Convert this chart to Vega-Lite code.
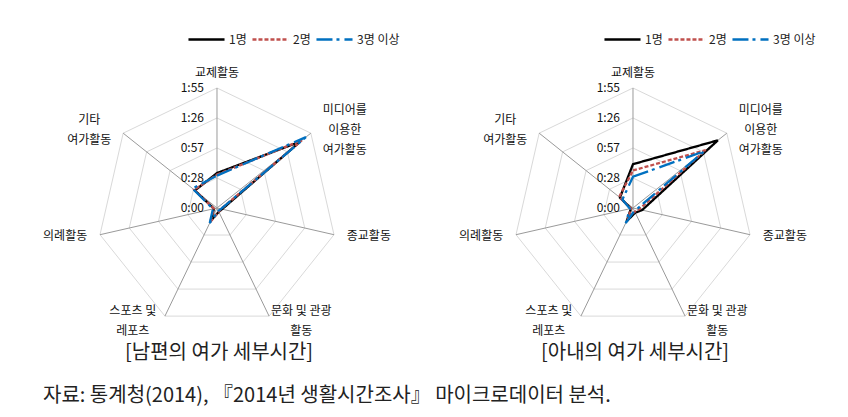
{
  "$schema": "https://vega.github.io/schema/vega-lite/v6.json",
  "padding": 0,
  "bounds": "flush",
  "spacing": 0,
  "background": "white",
  "datasets": {
    "series": [
      {"panel": "husband", "group": "1명", "idx": 0, "cat": "교제활동", "min": 33.5},
      {"panel": "husband", "group": "1명", "idx": 1, "cat": "미디어를 이용한 여가활동", "min": 102},
      {"panel": "husband", "group": "1명", "idx": 2, "cat": "종교활동", "min": 5},
      {"panel": "husband", "group": "1명", "idx": 3, "cat": "문화 및 관광 활동", "min": 4},
      {"panel": "husband", "group": "1명", "idx": 4, "cat": "스포츠 및 레포츠", "min": 13},
      {"panel": "husband", "group": "1명", "idx": 5, "cat": "의례활동", "min": 3},
      {"panel": "husband", "group": "1명", "idx": 6, "cat": "기타 여가활동", "min": 27},
      {"panel": "husband", "group": "2명", "idx": 0, "cat": "교제활동", "min": 32},
      {"panel": "husband", "group": "2명", "idx": 1, "cat": "미디어를 이용한 여가활동", "min": 104},
      {"panel": "husband", "group": "2명", "idx": 2, "cat": "종교활동", "min": 4},
      {"panel": "husband", "group": "2명", "idx": 3, "cat": "문화 및 관광 활동", "min": 4},
      {"panel": "husband", "group": "2명", "idx": 4, "cat": "스포츠 및 레포츠", "min": 15},
      {"panel": "husband", "group": "2명", "idx": 5, "cat": "의례활동", "min": 3},
      {"panel": "husband", "group": "2명", "idx": 6, "cat": "기타 여가활동", "min": 28},
      {"panel": "husband", "group": "3명 이상", "idx": 0, "cat": "교제활동", "min": 31},
      {"panel": "husband", "group": "3명 이상", "idx": 1, "cat": "미디어를 이용한 여가활동", "min": 109},
      {"panel": "husband", "group": "3명 이상", "idx": 2, "cat": "종교활동", "min": 4},
      {"panel": "husband", "group": "3명 이상", "idx": 3, "cat": "문화 및 관광 활동", "min": 3},
      {"panel": "husband", "group": "3명 이상", "idx": 4, "cat": "스포츠 및 레포츠", "min": 16},
      {"panel": "husband", "group": "3명 이상", "idx": 5, "cat": "의례활동", "min": 4},
      {"panel": "husband", "group": "3명 이상", "idx": 6, "cat": "기타 여가활동", "min": 30},
      {"panel": "wife", "group": "1명", "idx": 0, "cat": "교제활동", "min": 42},
      {"panel": "wife", "group": "1명", "idx": 1, "cat": "미디어를 이용한 여가활동", "min": 104},
      {"panel": "wife", "group": "1명", "idx": 2, "cat": "종교활동", "min": 9},
      {"panel": "wife", "group": "1명", "idx": 3, "cat": "문화 및 관광 활동", "min": 5},
      {"panel": "wife", "group": "1명", "idx": 4, "cat": "스포츠 및 레포츠", "min": 14},
      {"panel": "wife", "group": "1명", "idx": 5, "cat": "의례활동", "min": 2},
      {"panel": "wife", "group": "1명", "idx": 6, "cat": "기타 여가활동", "min": 16},
      {"panel": "wife", "group": "2명", "idx": 0, "cat": "교제활동", "min": 36},
      {"panel": "wife", "group": "2명", "idx": 1, "cat": "미디어를 이용한 여가활동", "min": 89},
      {"panel": "wife", "group": "2명", "idx": 2, "cat": "종교활동", "min": 6},
      {"panel": "wife", "group": "2명", "idx": 3, "cat": "문화 및 관광 활동", "min": 4},
      {"panel": "wife", "group": "2명", "idx": 4, "cat": "스포츠 및 레포츠", "min": 10},
      {"panel": "wife", "group": "2명", "idx": 5, "cat": "의례활동", "min": 2},
      {"panel": "wife", "group": "2명", "idx": 6, "cat": "기타 여가활동", "min": 17},
      {"panel": "wife", "group": "3명 이상", "idx": 0, "cat": "교제활동", "min": 30},
      {"panel": "wife", "group": "3명 이상", "idx": 1, "cat": "미디어를 이용한 여가활동", "min": 87},
      {"panel": "wife", "group": "3명 이상", "idx": 2, "cat": "종교활동", "min": 4},
      {"panel": "wife", "group": "3명 이상", "idx": 3, "cat": "문화 및 관광 활동", "min": 3},
      {"panel": "wife", "group": "3명 이상", "idx": 4, "cat": "스포츠 및 레포츠", "min": 16},
      {"panel": "wife", "group": "3명 이상", "idx": 5, "cat": "의례활동", "min": 3},
      {"panel": "wife", "group": "3명 이상", "idx": 6, "cat": "기타 여가활동", "min": 13}
    ],
    "axes": [
      {"idx": 0, "label": "교제활동"},
      {"idx": 1, "label": "미디어를\n이용한\n여가활동"},
      {"idx": 2, "label": "종교활동"},
      {"idx": 3, "label": "문화 및 관광\n활동"},
      {"idx": 4, "label": "스포츠 및\n레포츠"},
      {"idx": 5, "label": "의례활동"},
      {"idx": 6, "label": "기타\n여가활동"}
    ],
    "rings": [
      {"level": 0, "label": "0:00", "idx": [0]},
      {"level": 28.75, "label": "0:28", "idx": [0, 1, 2, 3, 4, 5, 6]},
      {"level": 57.5, "label": "0:57", "idx": [0, 1, 2, 3, 4, 5, 6]},
      {"level": 86.25, "label": "1:26", "idx": [0, 1, 2, 3, 4, 5, 6]},
      {"level": 115, "label": "1:55", "idx": [0, 1, 2, 3, 4, 5, 6]}
    ],
    "panels": [
      {"panel": "husband", "title": "[남편의 여가 세부시간]"},
      {"panel": "wife", "title": "[아내의 여가 세부시간]"}
    ],
    "notes": [
      {"text": "자료: 통계청(2014), 『2014년 생활시간조사』 마이크로데이터 분석."}
    ]
  },
  "hconcat": [
    {
      "width": 416,
      "height": 417,
      "layer": [
        {
          "data": {"name": "rings"},
          "transform": [
            {"flatten": ["idx"]},
            {"calculate": "datum.level*sin(datum.idx*2*PI/7)", "as": "x"},
            {"calculate": "datum.level*cos(datum.idx*2*PI/7)", "as": "y"}
          ],
          "mark": {"type": "line", "interpolate": "linear-closed", "stroke": "#D9D9D9", "strokeWidth": 1},
          "encoding": {
            "x": {"field": "x", "type": "quantitative", "scale": {"domain": [-207.96, 190.71], "nice": false, "zero": false}, "axis": null},
            "y": {"field": "y", "type": "quantitative", "scale": {"domain": [-200.29, 199.33], "nice": false, "zero": false}, "axis": null},
            "detail": {"field": "level", "type": "nominal"},
            "order": {"field": "idx", "type": "quantitative"}
          }
        },
        {
          "data": {"name": "axes"},
          "transform": [
            {"calculate": "0", "as": "o"},
            {"calculate": "115*sin(datum.idx*2*PI/7)", "as": "sx"},
            {"calculate": "115*cos(datum.idx*2*PI/7)", "as": "sy"}
          ],
          "mark": {"type": "rule", "stroke": "#9A9A9A", "strokeWidth": 1},
          "encoding": {
            "x": {"field": "o", "type": "quantitative", "scale": {"domain": [-207.96, 190.71], "nice": false, "zero": false}, "axis": null},
            "y": {"field": "o", "type": "quantitative", "scale": {"domain": [-200.29, 199.33], "nice": false, "zero": false}, "axis": null},
            "x2": {"field": "sx"},
            "y2": {"field": "sy"}
          }
        },
        {
          "data": {"name": "rings"},
          "transform": [
            {"flatten": ["idx"]},
            {"filter": "datum.idx === 0"}
          ],
          "mark": {"type": "text", "align": "right", "baseline": "middle", "dx": -13, "fontSize": 12, "color": "#111"},
          "encoding": {
            "x": {"datum": 0, "type": "quantitative", "scale": {"domain": [-207.96, 190.71], "nice": false, "zero": false}, "axis": null},
            "y": {"field": "level", "type": "quantitative", "scale": {"domain": [-200.29, 199.33], "nice": false, "zero": false}, "axis": null},
            "text": {"field": "label"}
          }
        },
        {
          "data": {"name": "axes"},
          "transform": [
            {"calculate": "sin(datum.idx*2*PI/7)", "as": "s"},
            {"calculate": "cos(datum.idx*2*PI/7)", "as": "c"},
            {"calculate": "length(split(datum.label, '\\n'))", "as": "n"},
            {"calculate": "0.95833*(125*datum.s + (datum.s > 0.01 ? 30 : (datum.s < -0.01 ? -30 : 0)))", "as": "lx"},
            {"calculate": "0.95833*(125*datum.c + (datum.c > 0.99 ? 10 : 0) + (datum.n - 1)*10)", "as": "ly"}
          ],
          "mark": {"type": "text", "align": "center", "baseline": "middle", "fontSize": 12, "lineBreak": "\n", "lineHeight": 20, "color": "#111"},
          "encoding": {
            "x": {"field": "lx", "type": "quantitative", "scale": {"domain": [-207.96, 190.71], "nice": false, "zero": false}, "axis": null},
            "y": {"field": "ly", "type": "quantitative", "scale": {"domain": [-200.29, 199.33], "nice": false, "zero": false}, "axis": null},
            "text": {"field": "label"}
          }
        },
        {
          "data": {"name": "series"},
          "transform": [
            {"filter": "datum.panel === 'husband'"},
            {"calculate": "datum.min*sin(datum.idx*2*PI/7)", "as": "x"},
            {"calculate": "datum.min*cos(datum.idx*2*PI/7)", "as": "y"}
          ],
          "mark": {"type": "line", "interpolate": "linear-closed", "strokeWidth": 2.3},
          "encoding": {
            "x": {"field": "x", "type": "quantitative", "scale": {"domain": [-207.96, 190.71], "nice": false, "zero": false}, "axis": null},
            "y": {"field": "y", "type": "quantitative", "scale": {"domain": [-200.29, 199.33], "nice": false, "zero": false}, "axis": null},
            "order": {"field": "idx", "type": "quantitative"},
            "color": {"field": "group", "type": "nominal", "scale": {"domain": ["1명", "2명", "3명 이상"], "range": ["#000000", "#C0504D", "#0070C0"]}, "legend": {"title": null, "orient": "none", "legendX": 187, "legendY": 20, "direction": "horizontal"}},
            "strokeDash": {"field": "group", "type": "nominal", "scale": {"domain": ["1명", "2명", "3명 이상"], "range": [[1, 0], [4, 2], [16, 4, 3, 5]]}, "legend": {"title": null, "orient": "none", "legendX": 187, "legendY": 20, "direction": "horizontal"}}
          }
        },
        {
          "data": {"name": "panels"},
          "transform": [{"filter": "datum.panel === 'husband'"}],
          "mark": {"type": "text", "align": "center", "baseline": "middle", "fontSize": 20, "color": "#222"},
          "encoding": {
            "x": {"datum": 2, "type": "quantitative", "scale": {"domain": [-207.96, 190.71], "nice": false, "zero": false}, "axis": null},
            "y": {"datum": -139, "type": "quantitative", "scale": {"domain": [-200.29, 199.33], "nice": false, "zero": false}, "axis": null},
            "text": {"field": "title"}
          }
        },
        {
          "data": {"name": "notes"},
          "mark": {"type": "text", "align": "left", "baseline": "middle", "fontSize": 20, "color": "#222"},
          "encoding": {
            "x": {"datum": -166.75, "type": "quantitative", "scale": {"domain": [-207.96, 190.71], "nice": false, "zero": false}, "axis": null},
            "y": {"datum": -180.2, "type": "quantitative", "scale": {"domain": [-200.29, 199.33], "nice": false, "zero": false}, "axis": null},
            "text": {"field": "text"}
          }
        }
      ]
    },
    {
      "width": 416,
      "height": 417,
      "layer": [
        {
          "data": {"name": "rings"},
          "transform": [
            {"flatten": ["idx"]},
            {"calculate": "datum.level*sin(datum.idx*2*PI/7)", "as": "x"},
            {"calculate": "datum.level*cos(datum.idx*2*PI/7)", "as": "y"}
          ],
          "mark": {"type": "line", "interpolate": "linear-closed", "stroke": "#D9D9D9", "strokeWidth": 1},
          "encoding": {
            "x": {"field": "x", "type": "quantitative", "scale": {"domain": [-207.96, 190.71], "nice": false, "zero": false}, "axis": null},
            "y": {"field": "y", "type": "quantitative", "scale": {"domain": [-200.29, 199.33], "nice": false, "zero": false}, "axis": null},
            "detail": {"field": "level", "type": "nominal"},
            "order": {"field": "idx", "type": "quantitative"}
          }
        },
        {
          "data": {"name": "axes"},
          "transform": [
            {"calculate": "0", "as": "o"},
            {"calculate": "115*sin(datum.idx*2*PI/7)", "as": "sx"},
            {"calculate": "115*cos(datum.idx*2*PI/7)", "as": "sy"}
          ],
          "mark": {"type": "rule", "stroke": "#9A9A9A", "strokeWidth": 1},
          "encoding": {
            "x": {"field": "o", "type": "quantitative", "scale": {"domain": [-207.96, 190.71], "nice": false, "zero": false}, "axis": null},
            "y": {"field": "o", "type": "quantitative", "scale": {"domain": [-200.29, 199.33], "nice": false, "zero": false}, "axis": null},
            "x2": {"field": "sx"},
            "y2": {"field": "sy"}
          }
        },
        {
          "data": {"name": "rings"},
          "transform": [
            {"flatten": ["idx"]},
            {"filter": "datum.idx === 0"}
          ],
          "mark": {"type": "text", "align": "right", "baseline": "middle", "dx": -13, "fontSize": 12, "color": "#111"},
          "encoding": {
            "x": {"datum": 0, "type": "quantitative", "scale": {"domain": [-207.96, 190.71], "nice": false, "zero": false}, "axis": null},
            "y": {"field": "level", "type": "quantitative", "scale": {"domain": [-200.29, 199.33], "nice": false, "zero": false}, "axis": null},
            "text": {"field": "label"}
          }
        },
        {
          "data": {"name": "axes"},
          "transform": [
            {"calculate": "sin(datum.idx*2*PI/7)", "as": "s"},
            {"calculate": "cos(datum.idx*2*PI/7)", "as": "c"},
            {"calculate": "length(split(datum.label, '\\n'))", "as": "n"},
            {"calculate": "0.95833*(125*datum.s + (datum.s > 0.01 ? 30 : (datum.s < -0.01 ? -30 : 0)))", "as": "lx"},
            {"calculate": "0.95833*(125*datum.c + (datum.c > 0.99 ? 10 : 0) + (datum.n - 1)*10)", "as": "ly"}
          ],
          "mark": {"type": "text", "align": "center", "baseline": "middle", "fontSize": 12, "lineBreak": "\n", "lineHeight": 20, "color": "#111"},
          "encoding": {
            "x": {"field": "lx", "type": "quantitative", "scale": {"domain": [-207.96, 190.71], "nice": false, "zero": false}, "axis": null},
            "y": {"field": "ly", "type": "quantitative", "scale": {"domain": [-200.29, 199.33], "nice": false, "zero": false}, "axis": null},
            "text": {"field": "label"}
          }
        },
        {
          "data": {"name": "series"},
          "transform": [
            {"filter": "datum.panel === 'wife'"},
            {"calculate": "datum.min*sin(datum.idx*2*PI/7)", "as": "x"},
            {"calculate": "datum.min*cos(datum.idx*2*PI/7)", "as": "y"}
          ],
          "mark": {"type": "line", "interpolate": "linear-closed", "strokeWidth": 2.3},
          "encoding": {
            "x": {"field": "x", "type": "quantitative", "scale": {"domain": [-207.96, 190.71], "nice": false, "zero": false}, "axis": null},
            "y": {"field": "y", "type": "quantitative", "scale": {"domain": [-200.29, 199.33], "nice": false, "zero": false}, "axis": null},
            "order": {"field": "idx", "type": "quantitative"},
            "color": {"field": "group", "type": "nominal", "scale": {"domain": ["1명", "2명", "3명 이상"], "range": ["#000000", "#C0504D", "#0070C0"]}, "legend": {"title": null, "orient": "none", "legendX": 187, "legendY": 20, "direction": "horizontal"}},
            "strokeDash": {"field": "group", "type": "nominal", "scale": {"domain": ["1명", "2명", "3명 이상"], "range": [[1, 0], [4, 2], [16, 4, 3, 5]]}, "legend": {"title": null, "orient": "none", "legendX": 187, "legendY": 20, "direction": "horizontal"}}
          }
        },
        {
          "data": {"name": "panels"},
          "transform": [{"filter": "datum.panel === 'wife'"}],
          "mark": {"type": "text", "align": "center", "baseline": "middle", "fontSize": 20, "color": "#222"},
          "encoding": {
            "x": {"datum": 2, "type": "quantitative", "scale": {"domain": [-207.96, 190.71], "nice": false, "zero": false}, "axis": null},
            "y": {"datum": -139, "type": "quantitative", "scale": {"domain": [-200.29, 199.33], "nice": false, "zero": false}, "axis": null},
            "text": {"field": "title"}
          }
        }
      ]
    }
  ],
  "resolve": {
    "scale": {"color": "independent", "strokeDash": "independent"},
    "legend": {"color": "independent", "strokeDash": "independent"}
  },
  "config": {
    "view": {"stroke": null},
    "font": "Noto Sans CJK KR",
    "legend": {
      "symbolType": "stroke",
      "symbolSize": 1300,
      "symbolStrokeWidth": 2.5,
      "labelFontSize": 12,
      "labelColor": "#222",
      "labelOffset": 3,
      "columnPadding": 0,
      "gridAlign": "none",
      "padding": 0
    }
  }
}
